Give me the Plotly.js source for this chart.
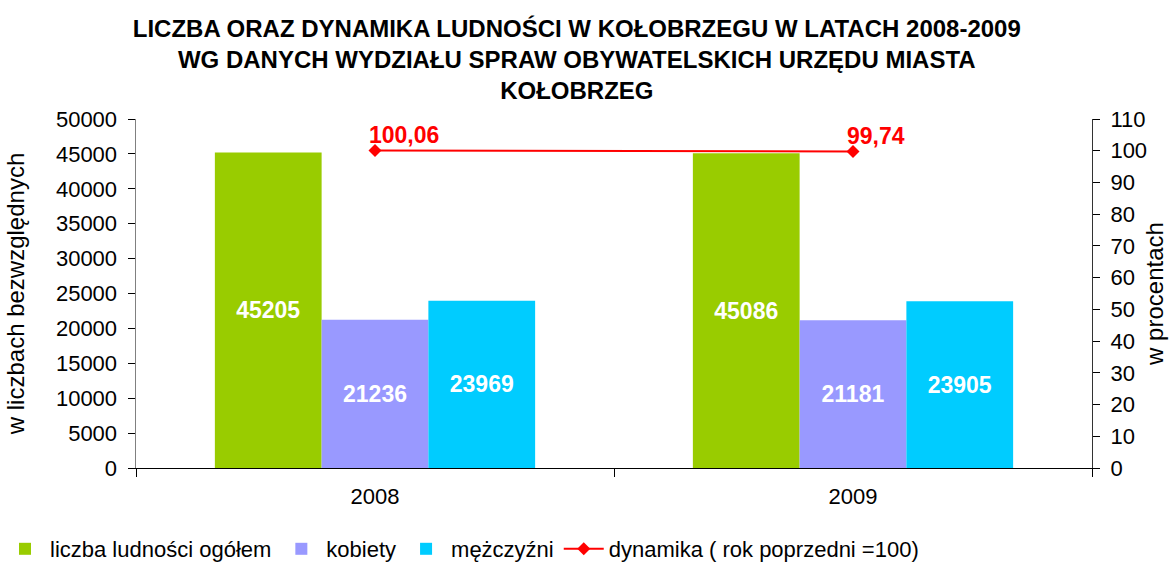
<!DOCTYPE html>
<html><head><meta charset="utf-8">
<script src="https://cdn.plot.ly/plotly-3.0.1.min.js"></script>
<style>body{margin:0;background:#fff}#chart{width:1170px;height:570px}</style>
</head><body><div id="chart"></div>
<script>
const years = ['2008', '2009'];
const ogolem = [45205, 45086];
const kobiety = [21236, 21181];
const mezczyzni = [23969, 23905];
const dynamika = [100.06, 99.74];
const dynamikaLabels = ['100,06', '99,74'];
const yTicks = [0,5000,10000,15000,20000,25000,30000,35000,40000,45000,50000];
const y2Ticks = [0,10,20,30,40,50,60,70,80,90,100,110];

const F = 'Liberation Sans, Arial, sans-serif';
const barText = {family: F, size: 23, color: '#ffffff', weight: 'bold'};

const traces = [
  {type:'bar', name:'liczba ludności ogółem', x:years, y:ogolem, marker:{color:'#99CC00'},
   text:ogolem.map(String), textposition:'inside', insidetextanchor:'middle', textfont:barText, hoverinfo:'skip'},
  {type:'bar', name:'kobiety', x:years, y:kobiety, marker:{color:'#9999FF'},
   text:kobiety.map(String), textposition:'inside', insidetextanchor:'middle', textfont:barText, hoverinfo:'skip'},
  {type:'bar', name:'mężczyźni', x:years, y:mezczyzni, marker:{color:'#00CCFF'},
   text:mezczyzni.map(String), textposition:'inside', insidetextanchor:'middle', textfont:barText, hoverinfo:'skip'},
  {type:'scatter', mode:'lines+markers', name:'dynamika ( rok poprzedni =100)', x:years, y:dynamika, yaxis:'y2',
   line:{color:'#FF0000', width:2}, marker:{symbol:'diamond', size:10, color:'#FF0000'}}
];

const annotations = years.map((yr, i) => ({
  x: i, y: dynamika[i], xref:'x', yref:'y2', text: dynamikaLabels[i], showarrow:false,
  xanchor:'left', yanchor:'bottom', xshift:-8, yshift:1,
  font:{family:F, size:23, color:'#FF0000', weight:'bold'}
}));

const layout = {
  width:1170, height:570,
  paper_bgcolor:'#ffffff', plot_bgcolor:'#ffffff',
  font:{family:F, size:22, color:'#000000'},
  margin:{l:136, r:78, t:119, b:102, autoexpand:false},
  title:{text:'LICZBA ORAZ DYNAMIKA LUDNOŚCI W KOŁOBRZEGU W LATACH 2008-2009<br>WG DANYCH WYDZIAŁU SPRAW OBYWATELSKICH URZĘDU MIASTA<br>KOŁOBRZEG',
    font:{family:F, size:24, color:'#000000', weight:'bold'}, x:0.493, xanchor:'center', xref:'container', y:0.935, yanchor:'top', yref:'container'},
  barmode:'group', bargap:0.33, bargroupgap:0,
  showlegend:true,
  legend:{orientation:'h', xref:'container', x:0.0, xanchor:'left', yref:'container', y:0.0, yanchor:'bottom',
    font:{family:F, size:22}, traceorder:'normal', itemwidth:40},
  xaxis:{type:'category', categoryarray:years, range:[-0.5,1.5], showgrid:false, showline:true, linecolor:'#000', linewidth:1.2,
    ticks:'outside', tickson:'boundaries', ticklen:8, tickcolor:'#000', tickfont:{size:22}, tickangle:0, zeroline:false,
    ticklabelstandoff:8},
  yaxis:{range:[0,50000], tickvals:yTicks, ticktext:yTicks.map(String), showgrid:false, zeroline:false,
    showline:true, linecolor:'#808080', linewidth:1.5, ticks:'outside', ticklen:7, tickcolor:'#000', ticklabelstandoff:6,
    tickfont:{size:22}, title:{text:'w liczbach bezwzględnych', font:{size:24}, standoff:24}},
  yaxis2:{range:[0,110], tickvals:y2Ticks, ticktext:y2Ticks.map(String), overlaying:'y', side:'right', showgrid:false, zeroline:false,
    showline:true, linecolor:'#333', linewidth:1, ticks:'outside', ticklen:7, tickcolor:'#000', ticklabelstandoff:6,
    tickfont:{size:22}, title:{text:'w procentach', font:{size:24}, standoff:0}},
  annotations: annotations
};

Plotly.newPlot('chart', traces, layout, {displayModeBar:false, staticPlot:true});
</script></body></html>
